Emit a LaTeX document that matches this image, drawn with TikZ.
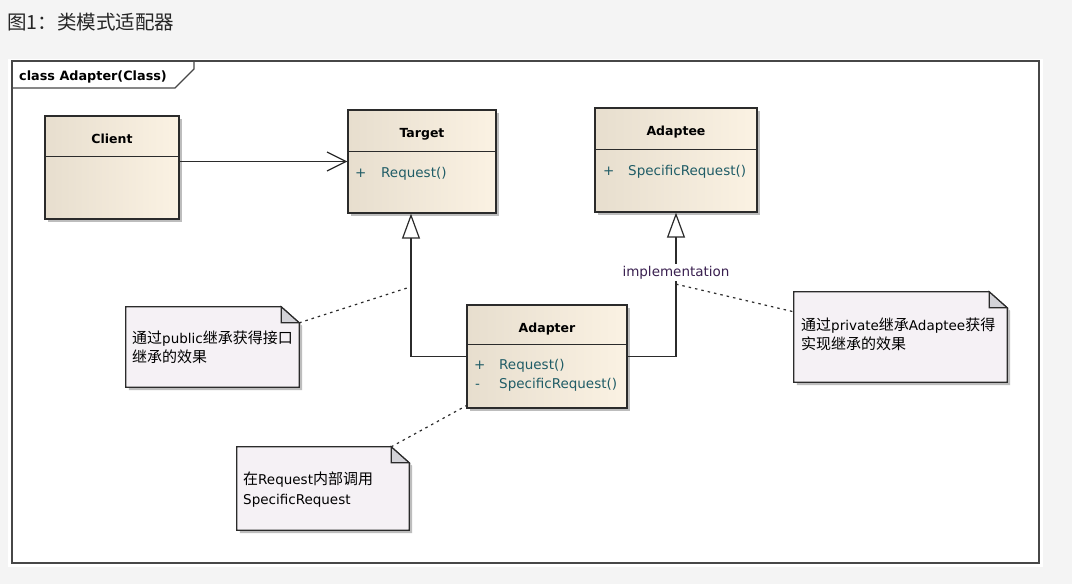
\documentclass[tikz,border=0pt]{standalone}
\usepackage{fontspec}
\setmainfont{DejaVu Sans}
\newfontfamily\cjk{Noto Sans CJK SC}
\usetikzlibrary{arrows.meta,calc,shadows}

\definecolor{pagebg}{HTML}{F4F4F4}
\definecolor{linec}{HTML}{2B2B2B}
\definecolor{framec}{HTML}{474747}
\definecolor{clsL}{HTML}{E7DECE}
\definecolor{clsR}{HTML}{FBF2E3}
\definecolor{shadowc}{HTML}{BDBDBD}
\definecolor{memc}{HTML}{1F5C66}
\definecolor{lblc}{HTML}{3A2050}
\definecolor{notefill}{HTML}{F5F1F5}
\definecolor{foldfill}{HTML}{D3D3D8}

% CJK run inside mixed Latin/Chinese text
\newcommand\zh[1]{{\cjk\fontsize{15}{17}\selectfont #1}}

\begin{document}
\begin{tikzpicture}[x=1pt,y=-1pt,
  cls/.style={draw=linec, line width=1.3pt, left color=clsL, right color=clsR,
    inner sep=0pt,
    drop shadow={shadow xshift=3pt, shadow yshift=-3pt, fill=shadowc, opacity=1}},
  divider/.style={draw=linec, line width=1.1pt},
  ttl/.style={font=\bfseries\fontsize{12.5}{14}\selectfont, inner sep=0pt, anchor=base},
  mem/.style={font=\fontsize{13.5}{15}\selectfont, text=memc, inner sep=0pt, anchor=base west},
  notebox/.style={inner sep=0pt},
  noteline/.style={draw=linec, line width=1.2pt, fill=notefill},
  notefold/.style={draw=linec, line width=1.2pt, fill=foldfill, line join=miter},
  noteshadow/.style={fill=shadowc},
  notetxt/.style={font=\fontsize{13.5}{16}\selectfont, inner sep=0pt, anchor=base west},
  assoc/.style={draw=linec, line width=1.2pt, -{Straight Barb[length=19pt,width=19pt]}},
  gen/.style={draw=linec, line width=1.2pt, -{Triangle[open,length=25pt,width=18pt]}},
  anchorline/.style={draw=linec, line width=1.2pt, dash pattern=on 2.5pt off 4pt},
  lbl/.style={font=\fontsize{13.5}{15}\selectfont, text=lblc, fill=white, inner sep=1.5pt}
]
% page background
\fill[pagebg] (0,0) rectangle (1072,584);
\useasboundingbox (0,0) rectangle (1072,584);

% caption above the diagram
\node[anchor=base west, inner sep=0pt, text=black!85,
      font=\cjk\fontsize{19.5}{22}\selectfont] (caption) at (7,29.5) {图1：类模式适配器};

% diagram frame with its name tab
\fill[white] (8,59) rectangle (1043,567);
\node[draw=framec, line width=2pt, minimum width=1027pt, minimum height=502pt,
      inner sep=0pt] (frame) at (525.5,312) {};
\draw[framec, line width=1.3pt] ([yshift=-28pt]frame.north west) -- ++(164,0)
      -- ++(19,-19) -- ++(0,-9);
\node[anchor=base west, inner sep=0pt, font=\bfseries\fontsize{12.8}{14}\selectfont]
      (frameName) at (19,80.5) {class Adapter(Class)};

% ---- classes ----
\node[cls, minimum width=134pt, minimum height=103pt] (client) at (112,167.5) {};
\draw[divider] ([yshift=-41pt]client.north west) -- ([yshift=-41pt]client.north east);
\node[ttl] (clientName) at (112,143.5) {Client};

\node[cls, minimum width=148pt, minimum height=103pt] (target) at (422,161.5) {};
\draw[divider] ([yshift=-42pt]target.north west) -- ([yshift=-42pt]target.north east);
\node[ttl] (targetName) at (422,137.5) {Target};
\node[mem] (targetVis) at (355,177.5) {+};
\node[mem] (targetOp) at (381,177.5) {Request()};

\node[cls, minimum width=162pt, minimum height=104pt] (adaptee) at (676,160) {};
\draw[divider] ([yshift=-42pt]adaptee.north west) -- ([yshift=-42pt]adaptee.north east);
\node[ttl] (adapteeName) at (676,135.5) {Adaptee};
\node[mem] (adapteeVis) at (603,175.5) {+};
\node[mem] (adapteeOp) at (628,175.5) {SpecificRequest()};

\node[cls, minimum width=160pt, minimum height=103pt] (adapter) at (547,356.5) {};
\draw[divider] ([yshift=-40pt]adapter.north west) -- ([yshift=-40pt]adapter.north east);
\node[ttl] (adapterName) at (547,332.5) {Adapter};
\node[mem] (adapterVis1) at (474,369.5) {+};
\node[mem] (adapterOp1) at (499,369.5) {Request()};
\node[mem] (adapterVis2) at (475,388.5) {-};
\node[mem] (adapterOp2) at (499,388.5) {SpecificRequest()};

% ---- relations ----
\draw[assoc] (client.east |- target.west) -- (target.west);
\draw[gen] (adapter.west) -| ([xshift=-11pt]target.south);
\draw[gen] (adapter.east) -| (adaptee.south)
      node[pos=0.792, lbl] (impl) {implementation};

% ---- notes ----
\newcommand\drawnote[1]{%
  \fill[noteshadow] ([shift={(3pt,-3pt)}]#1.north west) -- ([shift={(-15pt,-3pt)}]#1.north east)
     -- ([shift={(3pt,-19pt)}]#1.north east) -- ([shift={(3pt,-3pt)}]#1.south east)
     -- ([shift={(3pt,-3pt)}]#1.south west) -- cycle;
  \draw[noteline] (#1.north west) -- ([xshift=-18pt]#1.north east)
     -- ([yshift=-16pt]#1.north east) -- (#1.south east) -- (#1.south west) -- cycle;
  \draw[notefold] ([xshift=-18pt]#1.north east) -- ([xshift=-18pt,yshift=-16pt]#1.north east)
     -- ([yshift=-16pt]#1.north east) -- cycle;
}

\node[notebox, minimum width=173pt, minimum height=80pt] (note1) at (212.5,347) {};
\drawnote{note1}
\node[notetxt] (note1a) at (132,343.5) {\zh{通过}public\zh{继承获得接口}};
\node[notetxt] (note1b) at (132,362.5) {\zh{继承的效果}};

\node[notebox, minimum width=213pt, minimum height=90pt] (note2) at (900.5,337) {};
\drawnote{note2}
\node[notetxt] (note2a) at (801,330) {\zh{通过}private\zh{继承}Adaptee\zh{获得}};
\node[notetxt] (note2b) at (801,349) {\zh{实现继承的效果}};

\node[notebox, minimum width=172pt, minimum height=83pt] (note3) at (323,488.5) {};
\drawnote{note3}
\node[notetxt] (note3a) at (243,484.5) {\zh{在}Request\zh{内部调用}};
\node[notetxt] (note3b) at (243,504) {SpecificRequest};

% note anchors
\coordinate (pubEnd) at (407,288);
\draw[anchorline] ([yshift=-16pt]note1.north east) -- (pubEnd);
\draw[anchorline] ([yshift=-3pt]impl.south) -- ([yshift=-20pt]note2.north west);
\draw[anchorline] ([xshift=-18pt]note3.north east) -- ([yshift=3pt]adapter.south west);
\end{tikzpicture}
\end{document}
